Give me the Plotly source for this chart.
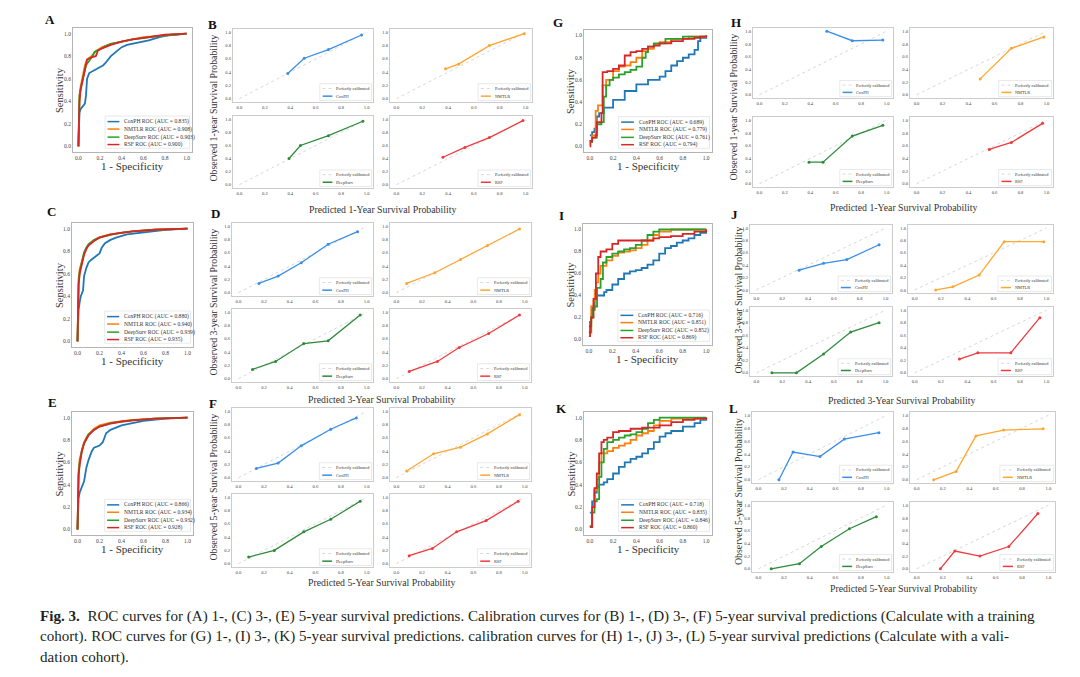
import plotly.graph_objects as go

W, H = 1080, 677
FONT = "Liberation Serif"

models = ["CoxPH", "NMTLR", "DeepSurv", "RSF"]
roc_colors = ["#1f77b4", "#ff7f0e", "#2ca02c", "#d62728"]
cal_colors = ["#3a8ee6", "#ffa630", "#2e8b3a", "#ef3b3f"]
ticks = [0.0, 0.2, 0.4, 0.6, 0.8, 1.0]
diag = [0.0, 1.0]

# ---------------- ROC, training cohort ----------------
auc_a = [0.835, 0.908, 0.903, 0.900]
fpr_a = [
    [0, 0.005, 0.01, 0.02, 0.04, 0.06, 0.07, 0.08, 0.1, 0.12, 0.15, 0.2, 0.23, 0.25, 0.28, 0.3, 0.35, 0.4, 0.45, 0.55, 0.65, 0.75, 0.85, 1.0],
    [0, 0.005, 0.01, 0.02, 0.04, 0.06, 0.08, 0.12, 0.17, 0.22, 0.3, 0.4, 0.5, 0.6, 0.75, 0.9, 1.0],
    [0, 0.005, 0.01, 0.03, 0.05, 0.07, 0.1, 0.13, 0.15, 0.2, 0.25, 0.3, 0.4, 0.5, 0.6, 0.75, 0.9, 1.0],
    [0, 0.005, 0.01, 0.02, 0.04, 0.06, 0.08, 0.12, 0.16, 0.17, 0.18, 0.22, 0.3, 0.4, 0.5, 0.65, 0.8, 1.0],
]
tpr_a = [
    [0, 0.15, 0.3, 0.33, 0.36, 0.38, 0.45, 0.6, 0.65, 0.66, 0.68, 0.7, 0.72, 0.74, 0.78, 0.8, 0.84, 0.88, 0.9, 0.92, 0.94, 0.97, 0.99, 1.0],
    [0, 0.25, 0.45, 0.53, 0.62, 0.72, 0.77, 0.8, 0.85, 0.88, 0.91, 0.93, 0.95, 0.97, 0.98, 0.995, 1.0],
    [0, 0.2, 0.45, 0.55, 0.63, 0.72, 0.76, 0.8, 0.84, 0.86, 0.89, 0.91, 0.93, 0.95, 0.96, 0.98, 0.99, 1.0],
    [0, 0.2, 0.4, 0.5, 0.6, 0.7, 0.77, 0.79, 0.8, 0.82, 0.85, 0.87, 0.9, 0.93, 0.95, 0.97, 0.99, 1.0],
]

auc_c = [0.880, 0.940, 0.939, 0.935]
fpr_c = [
    [0, 0.005, 0.01, 0.02, 0.03, 0.05, 0.06, 0.08, 0.1, 0.12, 0.15, 0.18, 0.2, 0.22, 0.25, 0.3, 0.35, 0.45, 0.6, 0.8, 1.0],
    [0, 0.005, 0.01, 0.02, 0.04, 0.06, 0.08, 0.1, 0.15, 0.2, 0.3, 0.4, 0.5, 0.7, 1.0],
    [0, 0.005, 0.01, 0.02, 0.04, 0.06, 0.08, 0.1, 0.15, 0.2, 0.3, 0.4, 0.5, 0.7, 1.0],
    [0, 0.005, 0.01, 0.02, 0.04, 0.06, 0.08, 0.1, 0.15, 0.2, 0.3, 0.4, 0.5, 0.7, 1.0],
]
tpr_c = [
    [0, 0.18, 0.28, 0.35, 0.4, 0.45, 0.58, 0.65, 0.7, 0.72, 0.74, 0.76, 0.78, 0.83, 0.87, 0.9, 0.92, 0.95, 0.97, 0.99, 1.0],
    [0, 0.45, 0.56, 0.64, 0.72, 0.78, 0.82, 0.86, 0.9, 0.925, 0.95, 0.965, 0.975, 0.99, 1.0],
    [0, 0.4, 0.52, 0.62, 0.72, 0.79, 0.83, 0.86, 0.9, 0.92, 0.945, 0.965, 0.975, 0.99, 1.0],
    [0, 0.35, 0.5, 0.6, 0.7, 0.77, 0.82, 0.85, 0.89, 0.92, 0.95, 0.965, 0.975, 0.99, 1.0],
]

auc_e = [0.866, 0.934, 0.932, 0.928]
fpr_e = [
    [0, 0.005, 0.01, 0.02, 0.04, 0.06, 0.08, 0.1, 0.13, 0.15, 0.2, 0.23, 0.26, 0.3, 0.35, 0.4, 0.5, 0.6, 0.8, 1.0],
    [0, 0.005, 0.01, 0.02, 0.04, 0.06, 0.08, 0.1, 0.15, 0.2, 0.3, 0.4, 0.5, 0.7, 1.0],
    [0, 0.005, 0.01, 0.02, 0.04, 0.06, 0.08, 0.1, 0.15, 0.2, 0.3, 0.4, 0.5, 0.7, 1.0],
    [0, 0.005, 0.01, 0.02, 0.04, 0.06, 0.08, 0.1, 0.15, 0.2, 0.3, 0.4, 0.5, 0.7, 1.0],
]
tpr_e = [
    [0, 0.2, 0.28, 0.33, 0.38, 0.43, 0.55, 0.62, 0.7, 0.73, 0.75, 0.78, 0.86, 0.89, 0.91, 0.93, 0.95, 0.97, 0.99, 1.0],
    [0, 0.42, 0.53, 0.63, 0.72, 0.78, 0.82, 0.85, 0.9, 0.93, 0.955, 0.97, 0.98, 0.99, 1.0],
    [0, 0.38, 0.5, 0.6, 0.71, 0.77, 0.81, 0.85, 0.89, 0.92, 0.95, 0.965, 0.975, 0.99, 1.0],
    [0, 0.35, 0.48, 0.58, 0.7, 0.77, 0.81, 0.84, 0.89, 0.92, 0.945, 0.965, 0.975, 0.99, 1.0],
]

# ---------------- ROC, validation cohort ----------------
auc_g = [0.689, 0.779, 0.761, 0.794]
fpr_g = [
    [0, 0.02, 0.04, 0.06, 0.08, 0.12, 0.2, 0.3, 0.4, 0.5, 0.6, 0.65, 0.7, 0.75, 0.8, 0.85, 0.9, 0.93, 0.95, 1.0],
    [0, 0.02, 0.05, 0.07, 0.11, 0.14, 0.2, 0.25, 0.3, 0.35, 0.4, 0.45, 0.5, 0.55, 0.6, 0.7, 0.85, 1.0],
    [0, 0.02, 0.06, 0.1, 0.12, 0.14, 0.17, 0.2, 0.25, 0.3, 0.35, 0.4, 0.45, 0.48, 0.5, 0.55, 0.65, 0.8, 1.0],
    [0, 0.005, 0.02, 0.05, 0.06, 0.1, 0.11, 0.15, 0.2, 0.25, 0.3, 0.35, 0.4, 0.45, 0.5, 0.55, 0.6, 0.7, 0.8, 0.9, 0.95, 1.0],
]
tpr_g = [
    [0.1, 0.13, 0.16, 0.27, 0.3, 0.35, 0.42, 0.5, 0.56, 0.6, 0.63, 0.68, 0.73, 0.77, 0.8, 0.83, 0.87, 0.95, 0.98, 1.0],
    [0.05, 0.1, 0.32, 0.37, 0.55, 0.6, 0.68, 0.72, 0.73, 0.76, 0.8, 0.86, 0.88, 0.92, 0.94, 0.97, 0.99, 1.0],
    [0.04, 0.08, 0.2, 0.22, 0.45, 0.55, 0.6, 0.62, 0.65, 0.67, 0.69, 0.72, 0.8, 0.85, 0.9, 0.93, 0.97, 0.99, 1.0],
    [0.0, 0.05, 0.08, 0.1, 0.22, 0.3, 0.67, 0.68, 0.7, 0.73, 0.82, 0.85, 0.86, 0.88, 0.9, 0.91, 0.93, 0.95, 0.97, 0.98, 0.99, 1.0],
]

auc_i = [0.716, 0.851, 0.852, 0.869]
fpr_i = [
    [0, 0.01, 0.02, 0.03, 0.05, 0.07, 0.13, 0.15, 0.2, 0.25, 0.3, 0.35, 0.4, 0.45, 0.5, 0.55, 0.6, 0.65, 0.7, 0.75, 0.8, 0.85, 0.9, 0.95, 1.0],
    [0, 0.02, 0.04, 0.05, 0.06, 0.08, 0.1, 0.15, 0.2, 0.25, 0.3, 0.35, 0.4, 0.45, 0.5, 0.55, 0.6, 0.7, 1.0],
    [0, 0.02, 0.03, 0.05, 0.07, 0.1, 0.12, 0.15, 0.2, 0.25, 0.3, 0.35, 0.4, 0.45, 0.5, 0.55, 0.6, 1.0],
    [0, 0.01, 0.02, 0.04, 0.06, 0.08, 0.1, 0.15, 0.2, 0.25, 0.55, 0.6, 0.7, 0.8, 0.9, 1.0],
]
tpr_i = [
    [0.12, 0.16, 0.2, 0.3, 0.37, 0.4, 0.43, 0.45, 0.5, 0.55, 0.6, 0.62, 0.63, 0.65, 0.68, 0.72, 0.78, 0.83, 0.85, 0.88, 0.9, 0.92, 0.95, 0.97, 1.0],
    [0.06, 0.3, 0.35, 0.45, 0.52, 0.6, 0.67, 0.72, 0.76, 0.79, 0.8, 0.81, 0.83, 0.86, 0.9, 0.95, 0.98, 1.0, 1.0],
    [0.07, 0.2, 0.27, 0.3, 0.47, 0.55, 0.7, 0.75, 0.78, 0.8, 0.82, 0.83, 0.86, 0.9, 0.95, 0.98, 1.0, 1.0],
    [0.03, 0.12, 0.2, 0.37, 0.6, 0.75, 0.8, 0.82, 0.87, 0.9, 0.92, 0.93, 0.94, 0.96, 0.98, 1.0],
]

auc_k = [0.718, 0.835, 0.846, 0.860]
fpr_k = [
    [0, 0.02, 0.04, 0.06, 0.08, 0.12, 0.15, 0.2, 0.25, 0.3, 0.35, 0.4, 0.45, 0.5, 0.55, 0.6, 0.65, 0.7, 0.8, 0.9, 0.95, 1.0],
    [0, 0.02, 0.04, 0.06, 0.08, 0.1, 0.15, 0.2, 0.25, 0.3, 0.35, 0.4, 0.45, 0.5, 0.55, 0.6, 0.7, 1.0],
    [0, 0.02, 0.04, 0.06, 0.08, 0.1, 0.12, 0.15, 0.2, 0.25, 0.3, 0.35, 0.4, 0.45, 0.5, 0.55, 0.6, 1.0],
    [0, 0.02, 0.04, 0.06, 0.08, 0.1, 0.12, 0.15, 0.2, 0.25, 0.35, 0.45, 0.55, 0.6, 0.7, 0.8, 0.9, 1.0],
]
tpr_k = [
    [0.15, 0.25, 0.33, 0.38, 0.4, 0.42, 0.45, 0.5, 0.56, 0.6, 0.63, 0.65, 0.68, 0.72, 0.78, 0.83, 0.86, 0.88, 0.92, 0.95, 0.98, 1.0],
    [0.03, 0.2, 0.35, 0.45, 0.6, 0.68, 0.7, 0.73, 0.75, 0.77, 0.8, 0.84, 0.86, 0.88, 0.93, 0.97, 0.99, 1.0],
    [0.03, 0.15, 0.25, 0.27, 0.47, 0.6, 0.72, 0.78, 0.8, 0.82, 0.84, 0.85, 0.87, 0.9, 0.95, 0.98, 1.0, 1.0],
    [0.02, 0.2, 0.37, 0.5, 0.68, 0.78, 0.8, 0.82, 0.87, 0.88, 0.9, 0.91, 0.91, 0.93, 0.96, 0.98, 0.99, 1.0],
]

# ---------------- Calibration, training cohort ----------------
cal_b_x = [[0.38, 0.51, 0.7, 0.96], [0.38, 0.48, 0.72, 0.99], [0.39, 0.48, 0.7, 0.97], [0.36, 0.53, 0.72, 0.98]]
cal_b_y = [[0.38, 0.61, 0.74, 0.96], [0.45, 0.52, 0.8, 0.98], [0.4, 0.6, 0.75, 0.97], [0.42, 0.57, 0.72, 0.98]]

cal_d_x = [[0.16, 0.31, 0.49, 0.7, 0.93], [0.08, 0.3, 0.5, 0.71, 0.96], [0.11, 0.29, 0.51, 0.7, 0.95], [0.1, 0.32, 0.49, 0.72, 0.96]]
cal_d_y = [[0.14, 0.25, 0.45, 0.73, 0.92], [0.14, 0.3, 0.5, 0.71, 0.96], [0.14, 0.26, 0.53, 0.57, 0.96], [0.11, 0.26, 0.47, 0.68, 0.96]]

cal_f_x = [[0.14, 0.31, 0.49, 0.72, 0.92], [0.08, 0.29, 0.5, 0.71, 0.96], [0.08, 0.28, 0.51, 0.72, 0.95], [0.1, 0.28, 0.47, 0.7, 0.95]]
cal_f_y = [[0.14, 0.22, 0.48, 0.73, 0.9], [0.1, 0.36, 0.46, 0.66, 0.95], [0.1, 0.2, 0.48, 0.67, 0.94], [0.12, 0.23, 0.48, 0.65, 0.94]]

# ---------------- Calibration, validation cohort ----------------
cal_h_x = [[0.53, 0.73, 0.97], [0.49, 0.73, 0.98], [0.39, 0.5, 0.73, 0.97], [0.56, 0.73, 0.97]]
cal_h_y = [[1.0, 0.85, 0.86], [0.25, 0.73, 0.91], [0.34, 0.34, 0.75, 0.92], [0.54, 0.65, 0.95]]

cal_j_x = [[0.33, 0.52, 0.7, 0.95], [0.16, 0.29, 0.49, 0.68, 0.98], [0.12, 0.31, 0.52, 0.73, 0.95], [0.34, 0.48, 0.73, 0.95]]
cal_j_y = [[0.32, 0.43, 0.49, 0.73], [0.0, 0.05, 0.24, 0.78, 0.78], [0.0, 0.0, 0.3, 0.65, 0.8], [0.22, 0.32, 0.32, 0.88]]

cal_l_x = [[0.16, 0.27, 0.48, 0.67, 0.94], [0.13, 0.3, 0.45, 0.66, 0.96], [0.1, 0.32, 0.49, 0.71, 0.92], [0.18, 0.29, 0.48, 0.7, 0.92]]
cal_l_y = [[0.0, 0.43, 0.36, 0.63, 0.73], [0.0, 0.13, 0.68, 0.77, 0.79], [0.0, 0.08, 0.35, 0.63, 0.82], [0.0, 0.28, 0.2, 0.35, 0.87]]

fig = go.Figure()
layout = {}
annotations = []
shapes = []
count = [0]


def new_axes(box, tick_size, frame):
    count[0] += 1
    s = "" if count[0] == 1 else str(count[0])
    l, t, r, b = box
    common = dict(range=[-0.05, 1.05], tickvals=ticks, tickformat=".1f", showgrid=False,
                  zeroline=False, showline=True, mirror=True, linecolor=frame, linewidth=1,
                  ticks="", fixedrange=True,
                  tickfont=dict(family=FONT, size=tick_size, color="#444"))
    layout["xaxis" + s] = dict(domain=[l / W, r / W], anchor="y" + s, **common)
    layout["yaxis" + s] = dict(domain=[1 - b / H, 1 - t / H], anchor="x" + s, **common)
    return s


def text(x, y, s, size, angle=0, bold=False, xanchor="center", color="#333"):
    annotations.append(dict(xref="paper", yref="paper", x=x / W, y=1 - y / H,
                            text="<b>%s</b>" % s if bold else s, showarrow=False,
                            textangle=angle, xanchor=xanchor, yanchor="middle", borderpad=0,
                            font=dict(family=FONT, size=size, color=color)))


def legend(s, labels, colors, dashes, box, line_x, text_x, rows, size):
    xr, yr = "x%s domain" % s, "y%s domain" % s
    shapes.append(dict(type="rect", xref=xr, yref=yr, x0=box[0], x1=box[2], y0=box[1], y1=box[3],
                       line=dict(color="#dadada", width=0.6), fillcolor="rgba(255,255,255,0.8)"))
    for lab, c, d, yy in zip(labels, colors, dashes, rows):
        shapes.append(dict(type="line", xref=xr, yref=yr, x0=line_x[0], x1=line_x[1], y0=yy, y1=yy,
                           line=dict(color=c, width=1.5 if d == "solid" else 0.8, dash=d)))
        annotations.append(dict(xref=xr, yref=yr, x=text_x, y=yy, text=lab, showarrow=False,
                                xanchor="left", yanchor="middle", borderpad=0,
                                font=dict(family=FONT, size=size, color="#333")))


def roc_panel(letter, letter_xy, box, fpr, tpr, auc, shape):
    s = new_axes(box, 5.5, "#b4b4b4")
    for i in range(4):
        fig.add_trace(go.Scatter(x=fpr[i], y=tpr[i], mode="lines", xaxis="x" + s, yaxis="y" + s,
                                 line=dict(color=roc_colors[i], width=1.8, shape=shape),
                                 showlegend=False, hoverinfo="skip"))
    labels = ["%s ROC (AUC = %.3f)" % (m, a) for m, a in zip(models, auc)]
    legend(s, labels, roc_colors, ["solid"] * 4, (0.27, 0.03, 0.98, 0.29),
           (0.29, 0.39), 0.42, [0.245, 0.185, 0.12, 0.06], 5.6)
    l, t, r, b = box
    text(l - 13, (t + b) / 2, "Sensitivity", 10.5, angle=-90)
    text((l + r) / 2, b + 14, "1 - Specificity", 11)
    text(letter_xy[0], letter_xy[1], letter, 13, bold=True, color="#111")


def cal_group(letter, letter_xy, cols, rows, xs, ys, year, ylab_x, xlab_y):
    boxes = [(cols[0][0], rows[0][0], cols[0][1], rows[0][1]),
             (cols[1][0], rows[0][0], cols[1][1], rows[0][1]),
             (cols[0][0], rows[1][0], cols[0][1], rows[1][1]),
             (cols[1][0], rows[1][0], cols[1][1], rows[1][1])]
    for i, box in enumerate(boxes):
        s = new_axes(box, 4.6, "#cccccc")
        fig.add_trace(go.Scatter(x=diag, y=diag, mode="lines", xaxis="x" + s, yaxis="y" + s,
                                 line=dict(color="#d2d2d2", width=0.9, dash="dot"),
                                 showlegend=False, hoverinfo="skip"))
        fig.add_trace(go.Scatter(x=xs[i], y=ys[i], mode="lines+markers", xaxis="x" + s, yaxis="y" + s,
                                 line=dict(color=cal_colors[i], width=1.3),
                                 marker=dict(size=3, color=cal_colors[i]),
                                 showlegend=False, hoverinfo="skip"))
        legend(s, ["Perfectly calibrated", models[i]], ["#cfcfcf", cal_colors[i]], ["dot", "solid"],
               (0.62, 0.02, 0.99, 0.25), (0.64, 0.71), 0.73, [0.185, 0.08], 4.3)
    text(ylab_x, (rows[0][0] + rows[1][1]) / 2, "Observed %d-year Survival Probability" % year, 9.8, angle=-90)
    text((cols[0][0] + cols[1][1]) / 2, xlab_y, "Predicted %d-Year Survival Probability" % year, 9.8)
    text(letter_xy[0], letter_xy[1], letter, 13, bold=True, color="#111")


roc_panel("A", (50, 20), (73, 28, 192, 152), fpr_a, tpr_a, auc_a, "linear")
roc_panel("C", (51, 212), (72, 223, 193, 347), fpr_c, tpr_c, auc_c, "linear")
roc_panel("E", (52, 402), (72, 412, 193, 535), fpr_e, tpr_e, auc_e, "linear")
roc_panel("G", (558, 22), (584, 30, 712, 152), fpr_g, tpr_g, auc_g, "hv")
roc_panel("I", (561, 215), (583, 224, 712, 345), fpr_i, tpr_i, auc_i, "hv")
roc_panel("K", (561, 408), (584, 412, 712, 535), fpr_k, tpr_k, auc_k, "hv")

cal_group("B", (212, 24), [(233, 373), (390, 532)], [(29, 102), (116, 188)], cal_b_x, cal_b_y, 1, 213, 210)
cal_group("D", (215, 213), [(232, 373), (390, 531)], [(223, 296), (309, 382)], cal_d_x, cal_d_y, 3, 213, 399)
cal_group("F", (213, 403), [(232, 373), (390, 531)], [(408, 481), (494, 567)], cal_f_x, cal_f_y, 5, 213, 582)
cal_group("H", (736, 22), [(753, 893), (910, 1053)], [(28, 98), (117, 187)], cal_h_x, cal_h_y, 1, 733, 207)
cal_group("J", (734, 214), [(750, 892), (908, 1053)], [(225, 293), (307, 376)], cal_j_x, cal_j_y, 3, 738, 400)
cal_group("L", (733, 408), [(752, 893), (910, 1055)], [(412, 483), (502, 572)], cal_l_x, cal_l_y, 5, 738, 588)

caption = [
    "<b>Fig. 3.</b>  ROC curves for (A) 1-, (C) 3-, (E) 5-year survival predictions. Calibration curves for (B) 1-, (D) 3-, (F) 5-year survival predictions (Calculate with a training",
    "cohort). ROC curves for (G) 1-, (I) 3-, (K) 5-year survival predictions. calibration curves for (H) 1-, (J) 3-, (L) 5-year survival predictions (Calculate with a vali-",
    "dation cohort).",
]
for k, line in enumerate(caption):
    text(39, 616 + 20.5 * k, line, 15.1, xanchor="left", color="#231f20")

fig.update_layout(width=W, height=H, margin=dict(l=0, r=0, t=0, b=0),
                  paper_bgcolor="white", plot_bgcolor="white",
                  annotations=annotations, shapes=shapes, **layout)
# the page body has a default 8px margin; remove it so the figure sits at the window origin
fig.write_html("out.html", config={"displayModeBar": False},
               post_script="document.body.style.margin='0';")
